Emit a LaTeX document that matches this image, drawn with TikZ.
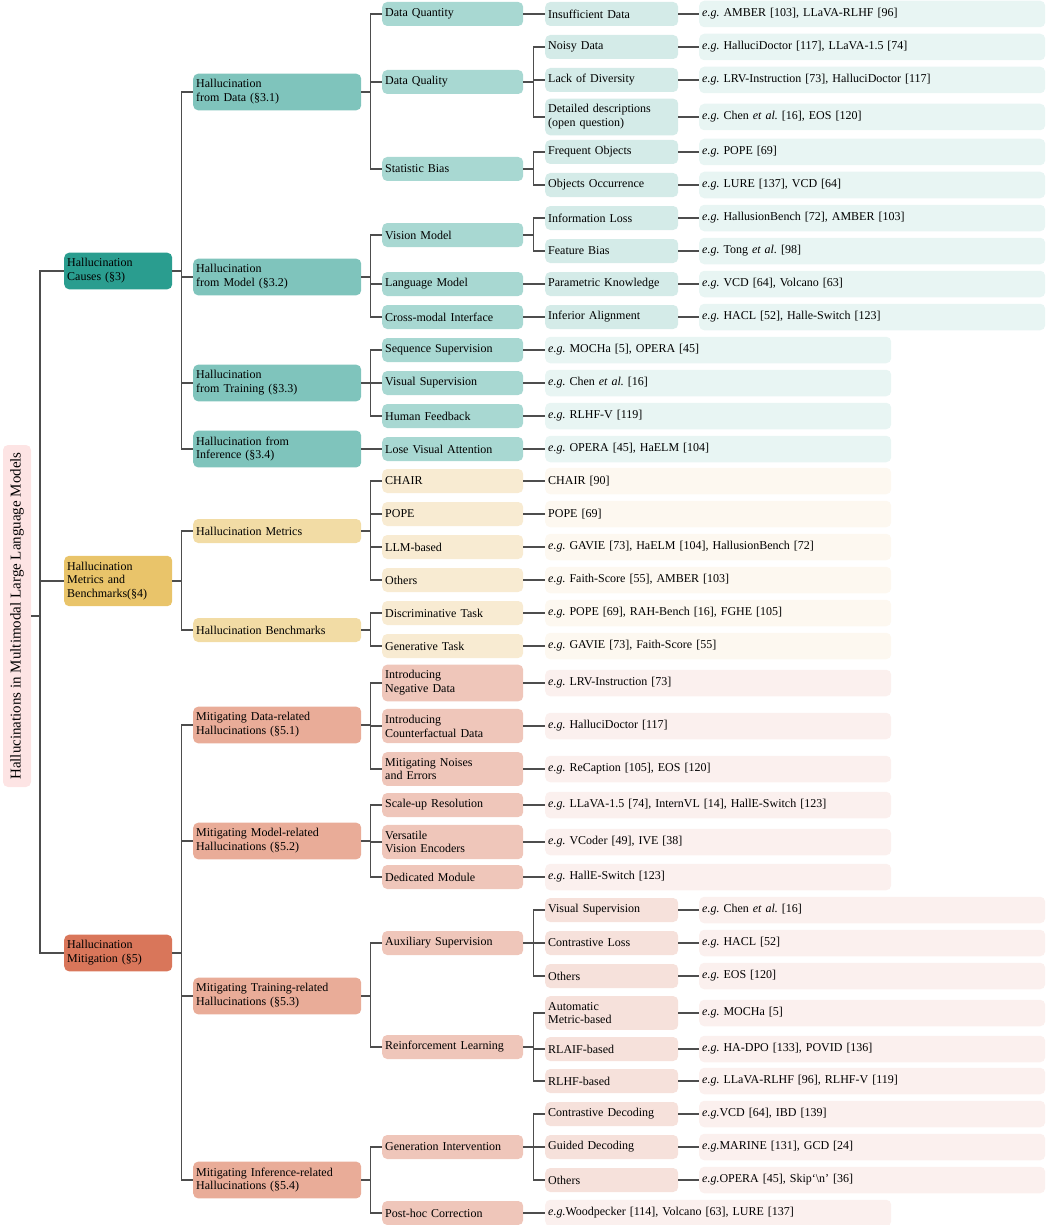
\documentclass[tikz,border=0pt]{standalone}
\usepackage{fontspec}
\setmainfont{Liberation Serif}
\frenchspacing

\definecolor{tealA}{HTML}{2A9D8F}
\definecolor{tealB}{HTML}{7FC4BC}
\definecolor{tealC}{HTML}{A8D8D2}
\definecolor{tealD}{HTML}{D4EBE8}
\definecolor{tealE}{HTML}{E8F5F3}
\definecolor{goldA}{HTML}{E9C46A}
\definecolor{goldB}{HTML}{F2DCA5}
\definecolor{goldC}{HTML}{F8EBD2}
\definecolor{goldE}{HTML}{FDF8F0}
\definecolor{rustA}{HTML}{D9765A}
\definecolor{rustB}{HTML}{E9AC98}
\definecolor{rustC}{HTML}{EFC6BA}
\definecolor{rustD}{HTML}{F6E1DB}
\definecolor{rustE}{HTML}{FBF0EE}
\definecolor{rootpink}{HTML}{FDE4E4}
\definecolor{linegray}{HTML}{4D4D4D}

\begin{document}
\begin{tikzpicture}[x=1pt, y=-1pt,
    every node/.style = {rounded corners=5pt, anchor=west, align=left,
      inner xsep=3pt, inner ysep=6pt, text=black, minimum height=24pt,
      font=\fontsize{12}{13.8}\selectfont},
    rootbox/.style = {anchor=center, rotate=90, fill=rootpink,
      minimum width=342pt, minimum height=28pt,
      font=\fontsize{15}{18}\selectfont},
    lone/.style = {text width=102pt, fill=#1},
    ltwo/.style = {text width=162pt, fill=#1},
    lthree/.style = {text width=135pt, fill=#1},
    lfour/.style = {text width=127pt, fill=#1},
    leaf/.style = {text width=340pt, minimum height=26.5pt, fill=#1},
    edge/.style = {draw=linegray, line width=1.6pt}]
  \useasboundingbox (0,0) rectangle (1045,1225);

  \node[rootbox] (root) at (17,616) {Hallucinations in Multimodal Large Language Models};

  % first level
  \node[lone=tealA] (ca) at (64,271) {Hallucination\\Causes (§3)};
  \node[lone=goldA] (cb) at (64,581) {Hallucination\\Metrics and\\Benchmarks(§4)};
  \node[lone=rustA] (cc) at (64,953) {Hallucination\\Mitigation (§5)};

  % second level
  \node[ltwo=tealB] (a1) at (193,92) {Hallucination\\from Data (§3.1)};
  \node[ltwo=tealB] (a2) at (193,277) {Hallucination\\from Model (§3.2)};
  \node[ltwo=tealB] (a3) at (193,383) {Hallucination\\from Training (§3.3)};
  \node[ltwo=tealB] (a4) at (193,449) {Hallucination from\\Inference (§3.4)};
  \node[ltwo=goldB] (b1) at (193,531) {Hallucination Metrics};
  \node[ltwo=goldB] (b2) at (193,630) {Hallucination Benchmarks};
  \node[ltwo=rustB] (m1) at (193,725) {Mitigating Data-related\\Hallucinations (§5.1)};
  \node[ltwo=rustB] (m2) at (193,841) {Mitigating Model-related\\Hallucinations (§5.2)};
  \node[ltwo=rustB] (m3) at (193,996) {Mitigating Training-related\\Hallucinations (§5.3)};
  \node[ltwo=rustB] (m4) at (193,1180) {Mitigating Inference-related\\Hallucinations (§5.4)};

  % third level
  \node[lthree=tealC] (a11) at (382,14) {Data Quantity};
  \node[lthree=tealC] (a12) at (382,82) {Data Quality};
  \node[lthree=tealC] (a13) at (382,169) {Statistic Bias};
  \node[lthree=tealC] (a21) at (382,235) {Vision Model};
  \node[lthree=tealC] (a22) at (382,284) {Language Model};
  \node[lthree=tealC] (a23) at (382,317) {Cross-modal Interface};
  \node[lthree=tealC] (a31) at (382,350) {Sequence Supervision};
  \node[lthree=tealC] (a32) at (382,383) {Visual Supervision};
  \node[lthree=tealC] (a33) at (382,416) {Human Feedback};
  \node[lthree=tealC] (a41) at (382,449) {Lose Visual Attention};
  \node[lthree=goldC] (b11) at (382,481) {CHAIR};
  \node[lthree=goldC] (b12) at (382,514) {POPE};
  \node[lthree=goldC] (b13) at (382,547) {LLM-based};
  \node[lthree=goldC] (b14) at (382,580) {Others};
  \node[lthree=goldC] (b21) at (382,613) {Discriminative Task};
  \node[lthree=goldC] (b22) at (382,646) {Generative Task};
  \node[lthree=rustC] (m11) at (382,683) {Introducing\\Negative Data};
  \node[lthree=rustC] (m12) at (382,726) {Introducing\\Counterfactual Data};
  \node[lthree=rustC] (m13) at (382,769) {Mitigating Noises\\and Errors};
  \node[lthree=rustC] (m21) at (382,805) {Scale-up Resolution};
  \node[lthree=rustC] (m22) at (382,842) {Versatile\\Vision Encoders};
  \node[lthree=rustC] (m23) at (382,877) {Dedicated Module};
  \node[lthree=rustC] (m31) at (382,943) {Auxiliary Supervision};
  \node[lthree=rustC] (m32) at (382,1047) {Reinforcement Learning};
  \node[lthree=rustC] (m41) at (382,1147) {Generation Intervention};
  \node[lthree=rustC] (m42) at (382,1213) {Post-hoc Correction};

  % fourth level
  \node[lfour=tealD] (a111) at (545,14) {Insufficient Data};
  \node[lfour=tealD] (a121) at (545,47) {Noisy Data};
  \node[lfour=tealD] (a122) at (545,80) {Lack of Diversity};
  \node[lfour=tealD] (a123) at (545,117) {Detailed descriptions\\(open question)};
  \node[lfour=tealD] (a131) at (545,152) {Frequent Objects};
  \node[lfour=tealD] (a132) at (545,185) {Objects Occurrence};
  \node[lfour=tealD] (a211) at (545,218) {Information Loss};
  \node[lfour=tealD] (a212) at (545,251) {Feature Bias};
  \node[lfour=tealD] (a221) at (545,284) {Parametric Knowledge};
  \node[lfour=tealD] (a231) at (545,317) {Inferior Alignment};
  \node[lfour=rustD] (m311) at (545,910) {Visual Supervision};
  \node[lfour=rustD] (m312) at (545,943) {Contrastive Loss};
  \node[lfour=rustD] (m313) at (545,976) {Others};
  \node[lfour=rustD] (m321) at (545,1013) {Automatic\\Metric-based};
  \node[lfour=rustD] (m322) at (545,1049) {RLAIF-based};
  \node[lfour=rustD] (m323) at (545,1081) {RLHF-based};
  \node[lfour=rustD] (m411) at (545,1114) {Contrastive Decoding};
  \node[lfour=rustD] (m412) at (545,1147) {Guided Decoding};
  \node[lfour=rustD] (m413) at (545,1180) {Others};

  % examples after the fourth level
  \node[leaf=tealE] (ea111) at (699,14) {\textit{e.g.} AMBER [103], LLaVA-RLHF [96]};
  \node[leaf=tealE] (ea121) at (699,47) {\textit{e.g.} HalluciDoctor [117], LLaVA-1.5 [74]};
  \node[leaf=tealE] (ea122) at (699,80) {\textit{e.g.} LRV-Instruction [73], HalluciDoctor [117]};
  \node[leaf=tealE] (ea123) at (699,117) {\textit{e.g.} Chen \textit{et al.} [16], EOS [120]};
  \node[leaf=tealE] (ea131) at (699,152) {\textit{e.g.} POPE [69]};
  \node[leaf=tealE] (ea132) at (699,185) {\textit{e.g.} LURE [137], VCD [64]};
  \node[leaf=tealE] (ea211) at (699,218) {\textit{e.g.} HallusionBench [72], AMBER [103]};
  \node[leaf=tealE] (ea212) at (699,251) {\textit{e.g.} Tong \textit{et al.} [98]};
  \node[leaf=tealE] (ea221) at (699,284) {\textit{e.g.} VCD [64], Volcano [63]};
  \node[leaf=tealE] (ea231) at (699,317) {\textit{e.g.} HACL [52], Halle-Switch [123]};
  \node[leaf=rustE] (em311) at (699,910) {\textit{e.g.} Chen \textit{et al.} [16]};
  \node[leaf=rustE] (em312) at (699,943) {\textit{e.g.} HACL [52]};
  \node[leaf=rustE] (em313) at (699,976) {\textit{e.g.} EOS [120]};
  \node[leaf=rustE] (em321) at (699,1013) {\textit{e.g.} MOCHa [5]};
  \node[leaf=rustE] (em322) at (699,1049) {\textit{e.g.} HA-DPO [133], POVID [136]};
  \node[leaf=rustE] (em323) at (699,1081) {\textit{e.g.} LLaVA-RLHF [96], RLHF-V [119]};
  \node[leaf=rustE] (em411) at (699,1114) {\textit{e.g.}VCD [64], IBD [139]};
  \node[leaf=rustE] (em412) at (699,1147) {\textit{e.g.}MARINE [131], GCD [24]};
  \node[leaf=rustE] (em413) at (699,1180) {\textit{e.g.}OPERA [45], Skip`\textbackslash n' [36]};

  % examples after the third level
  \node[leaf=tealE] (ea31) at (545,350) {\textit{e.g.} MOCHa [5], OPERA [45]};
  \node[leaf=tealE] (ea32) at (545,383) {\textit{e.g.} Chen \textit{et al.} [16]};
  \node[leaf=tealE] (ea33) at (545,416) {\textit{e.g.} RLHF-V [119]};
  \node[leaf=tealE] (ea41) at (545,449) {\textit{e.g.} OPERA [45], HaELM [104]};
  \node[leaf=goldE] (eb11) at (545,481) {CHAIR [90]};
  \node[leaf=goldE] (eb12) at (545,514) {POPE [69]};
  \node[leaf=goldE] (eb13) at (545,547) {\textit{e.g.} GAVIE [73], HaELM [104], HallusionBench [72]};
  \node[leaf=goldE] (eb14) at (545,580) {\textit{e.g.} Faith-Score [55], AMBER [103]};
  \node[leaf=goldE] (eb21) at (545,613) {\textit{e.g.} POPE [69], RAH-Bench [16], FGHE [105]};
  \node[leaf=goldE] (eb22) at (545,646) {\textit{e.g.} GAVIE [73], Faith-Score [55]};
  \node[leaf=rustE] (em11) at (545,683) {\textit{e.g.} LRV-Instruction [73]};
  \node[leaf=rustE] (em12) at (545,726) {\textit{e.g.} HalluciDoctor [117]};
  \node[leaf=rustE] (em13) at (545,769) {\textit{e.g.} ReCaption [105], EOS [120]};
  \node[leaf=rustE] (em21) at (545,805) {\textit{e.g.} LLaVA-1.5 [74], InternVL [14], HallE-Switch [123]};
  \node[leaf=rustE] (em22) at (545,842) {\textit{e.g.} VCoder [49], IVE [38]};
  \node[leaf=rustE] (em23) at (545,877) {\textit{e.g.} HallE-Switch [123]};
  \node[leaf=rustE] (em42) at (545,1213) {\textit{e.g.}Woodpecker [114], Volcano [63], LURE [137]};

  % forks
  \foreach \c in {ca,cb,cc} \draw[edge] (root.south) -- ++(9,0) |- (\c.west);
  \foreach \c in {a1,a2,a3,a4} \draw[edge] (ca.east) -- ++(9,0) |- (\c.west);
  \foreach \c in {b1,b2} \draw[edge] (cb.east) -- ++(9,0) |- (\c.west);
  \foreach \c in {m1,m2,m3,m4} \draw[edge] (cc.east) -- ++(9,0) |- (\c.west);
  \foreach \c in {a11,a12,a13} \draw[edge] (a1.east) -- ++(9,0) |- (\c.west);
  \foreach \c in {a21,a22,a23} \draw[edge] (a2.east) -- ++(9,0) |- (\c.west);
  \foreach \c in {a31,a32,a33} \draw[edge] (a3.east) -- ++(9,0) |- (\c.west);
  \foreach \c in {a41} \draw[edge] (a4.east) -- (\c.west);
  \foreach \c in {b11,b12,b13,b14} \draw[edge] (b1.east) -- ++(9,0) |- (\c.west);
  \foreach \c in {b21,b22} \draw[edge] (b2.east) -- ++(9,0) |- (\c.west);
  \foreach \c in {m11,m12,m13} \draw[edge] (m1.east) -- ++(9,0) |- (\c.west);
  \foreach \c in {m21,m22,m23} \draw[edge] (m2.east) -- ++(9,0) |- (\c.west);
  \foreach \c in {m31,m32} \draw[edge] (m3.east) -- ++(9,0) |- (\c.west);
  \foreach \c in {m41,m42} \draw[edge] (m4.east) -- ++(9,0) |- (\c.west);
  \foreach \c in {a121,a122,a123} \draw[edge] (a12.east) -- ++(10,0) |- (\c.west);
  \foreach \c in {a131,a132} \draw[edge] (a13.east) -- ++(10,0) |- (\c.west);
  \foreach \c in {a211,a212} \draw[edge] (a21.east) -- ++(10,0) |- (\c.west);
  \foreach \c in {m311,m312,m313} \draw[edge] (m31.east) -- ++(10,0) |- (\c.west);
  \foreach \c in {m321,m322,m323} \draw[edge] (m32.east) -- ++(10,0) |- (\c.west);
  \foreach \c in {m411,m412,m413} \draw[edge] (m41.east) -- ++(10,0) |- (\c.west);

  % straight links
  \foreach \p/\c in {a11/a111, a22/a221, a23/a231}
    \draw[edge] (\p.east) -- (\c.west);
  \foreach \c in {a111,a121,a122,a123,a131,a132,a211,a212,a221,a231,
      m311,m312,m313,m321,m322,m323,m411,m412,m413,
      a31,a32,a33,a41,b11,b12,b13,b14,b21,b22,
      m11,m12,m13,m21,m22,m23,m42}
    \draw[edge] (\c.east) -- (e\c.west);
\end{tikzpicture}
\end{document}
